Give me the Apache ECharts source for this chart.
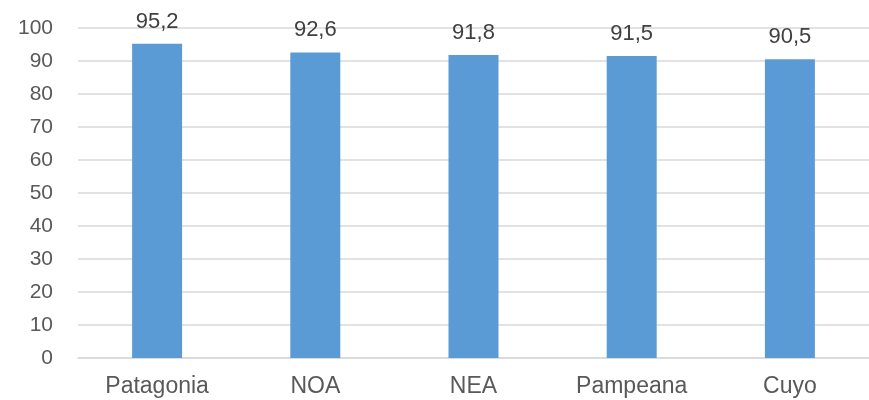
<!DOCTYPE html>
<html><head><meta charset="utf-8">
<script src="https://cdn.jsdelivr.net/npm/echarts@6/dist/echarts.min.js"></script>
<style>html,body{margin:0;padding:0;background:#fff}#c{width:869px;height:400px}</style>
</head><body><div id="c"></div>
<script>
const categories = ['Patagonia', 'NOA', 'NEA', 'Pampeana', 'Cuyo'];
const values = [95.2, 92.6, 91.8, 91.5, 90.5];
const yTicks = {min: 0, max: 100, interval: 10};

const chart = echarts.init(document.getElementById('c'), null, {renderer: 'canvas'});
chart.setOption({
  animation: false,
  grid: {left: 78, right: -11, top: 28, bottom: 42, containLabel: false},
  xAxis: {
    type: 'category', data: categories,
    axisLine: {show: true, lineStyle: {color: '#d9d9d9', width: 1.5}},
    axisTick: {show: false},
    axisLabel: {color: '#595959', fontSize: 23, fontFamily: 'Liberation Sans, Arial', margin: 17}
  },
  yAxis: {
    type: 'value', min: yTicks.min, max: yTicks.max, interval: yTicks.interval,
    axisLine: {show: false}, axisTick: {show: false},
    splitLine: {lineStyle: {color: '#d9d9d9', width: 1.5}},
    axisLabel: {color: '#595959', fontSize: 21, fontFamily: 'Liberation Sans, Arial', margin: 25}
  },
  series: [{
    type: 'bar', data: values, barWidth: 50,
    itemStyle: {color: '#5b9bd5'},
    label: {show: true, position: 'top', distance: 11, color: '#404040', fontSize: 22,
      fontFamily: 'Liberation Sans, Arial',
      formatter: p => p.value.toFixed(1).replace('.', ',')}
  }]
});
</script></body></html>
